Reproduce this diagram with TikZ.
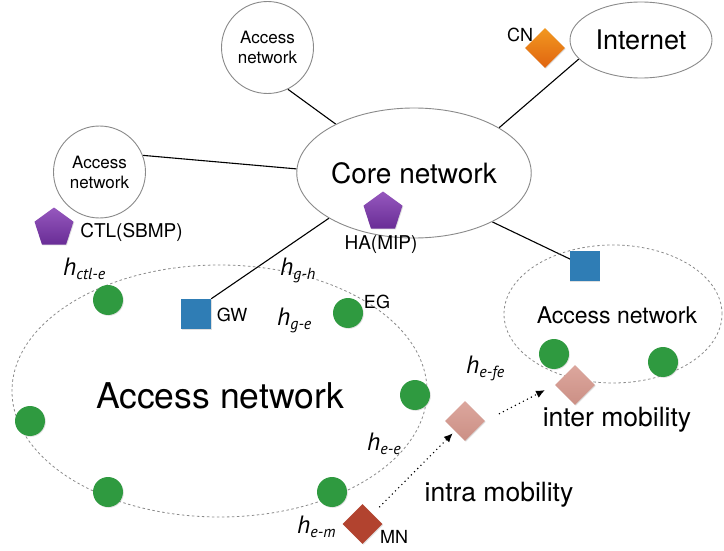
\documentclass[tikz,border=0pt]{standalone}
\usepackage{fontspec}
\setmainfont{TeX Gyre Heros}
\newfontfamily\hfont{PT Sans}
\usetikzlibrary{shapes.geometric,arrows.meta,shadows,backgrounds}
\definecolor{egreen}{HTML}{2F9A40}
\definecolor{gwblue}{HTML}{2F7DB5}
\definecolor{mnred}{HTML}{B2432F}
\definecolor{pinkd}{HTML}{D6978C}
\definecolor{outl}{HTML}{8A8A8A}
\newcommand{\hlab}[1]{{\hfont\itshape\fontsize{25}{25}\selectfont h\raisebox{-4pt}{\fontsize{16}{16}\selectfont #1}}}
\tikzset{
  netcircle/.style={circle,draw=outl,line width=0.9pt,fill=white,minimum size=92pt,inner sep=0pt,align=center,font=\fontsize{17}{20}\selectfont},
  netell/.style={ellipse,draw=outl,line width=0.9pt,fill=white,inner sep=0pt},
  dashell/.style={ellipse,draw=outl,line width=0.8pt,dash pattern=on 2.5pt off 2.5pt,inner sep=0pt},
  link/.style={line width=1.1pt,black},
  shad/.style={drop shadow={shadow xshift=0.8pt,shadow yshift=-0.8pt,opacity=0.25}},
  egnode/.style={circle,fill=egreen,minimum size=30pt,inner sep=0pt,shad},
  gwnode/.style={rectangle,fill=gwblue,minimum size=30pt,inner sep=0pt,shad},
  pent/.style={regular polygon,regular polygon sides=5,minimum size=41pt,inner sep=0pt,top color={rgb,255:red,150;green,88;blue,190},bottom color={rgb,255:red,105;green,45;blue,150},shad},
  dia/.style={diamond,minimum width=40pt,minimum height=40pt,inner sep=0pt,shad},
  lab/.style={font=\fontsize{18}{18}\selectfont,inner sep=0pt},
  mob/.style={line width=1.6pt,dash pattern=on 0pt off 4.5pt,line cap=round,-{Latex[length=9pt,width=8pt]}},
}
\begin{document}
\begin{tikzpicture}[x=1pt,y=-1pt]
\useasboundingbox (0,0) rectangle (724,551);
% big networks
\node[dashell,minimum width=415pt,minimum height=252pt] (bigan) at (219.5,391) {};
\node[anchor=base,inner sep=0pt,font=\fontsize{35.5}{35.5}\selectfont] (bigtxt) at (220,408) {Access network};
\node[dashell,minimum width=218pt,minimum height=138pt] (rightan) at (613,314) {};
\node[anchor=base,inner sep=0pt,font=\fontsize{23}{23}\selectfont] (righttxt) at (617,323) {Access network};
% core and others
\node[netell,minimum width=190pt,minimum height=130pt,font=\fontsize{28}{28}\selectfont] (core) at (414,173) {Core network};
\node[netell,minimum width=142pt,minimum height=76pt,font=\fontsize{27}{27}\selectfont] (internet) at (641,40) {Internet};
\node[netcircle] (ac1) at (267.5,47.5) {Access\\network};
\node[netcircle] (ac2) at (99.5,172) {Access\\network};
% gateways
\node[gwnode] (gw) at (196,314) {};
\node[gwnode] (gw2) at (584.5,266) {};
% links
\begin{scope}[on background layer]
\draw[link] (ac1.-64) -- (core.148);
\draw[link] (ac2.21) -- (core.178);
\draw[link] (core.28) -- (internet.197);
\draw[link] (core.208) -- (gw.north east);
\draw[link] (core.-32) -- (gw2.center);
\end{scope}
% CN
\node[dia,top color={rgb,255:red,242;green,152;blue,32},bottom color={rgb,255:red,224;green,100;blue,16}] (cn) at (545,48) {};
\node[lab] (cnl) at (520,35) {CN};
% pentagons
\node[pent] (ha) at (383,212) {};
\node[lab,font=\fontsize{19}{19}\selectfont] (hal) at (381,245) {HA(MIP)};
\node[pent] (ctl) at (54,228) {};
\node[lab,font=\fontsize{19}{19}\selectfont] (ctll) at (131.5,232) {CTL(SBMP)};
% EGs
\node[egnode] (e1) at (108,300) {};
\node[egnode] (e2) at (348,313) {};
\node[egnode] (e3) at (30,421) {};
\node[egnode] (e4) at (108,492) {};
\node[egnode] (e5) at (332,492) {};
\node[egnode] (e6) at (415,395) {};
\node[egnode] (e7) at (554,354) {};
\node[egnode] (e8) at (663,362) {};
\node[lab] (egl) at (377,302) {EG};
\node[lab] (gwl) at (232,315) {GW};
% mobile nodes
\node[dia,fill=mnred] (mn) at (362.5,524) {};
\node[lab] (mnl) at (394,537) {MN};
\node[dia,top color=pinkd!85!white,bottom color=pinkd!95!black] (p1) at (465,421) {};
\node[dia,top color=pinkd!85!white,bottom color=pinkd!95!black] (p2) at (575,385) {};
\draw[mob,shorten <=10pt,shorten >=3pt] (mn.north east) -- (p1.south west);
\draw[mob,shorten <=16pt,shorten >=11pt] (p1.east) -- (p2.west);
\node[anchor=base,inner sep=0pt,font=\fontsize{26.5}{26.5}\selectfont] (intra) at (499,501) {intra mobility};
\node[anchor=base,inner sep=0pt,font=\fontsize{26.5}{26.5}\selectfont] (inter) at (617,426) {inter mobility};
% h labels
\node[anchor=base west,inner sep=0pt] (hctl) at (63,275) {\hlab{ctl-e}};
\node[anchor=base west,inner sep=0pt] (hgh) at (280,275) {\hlab{g-h}};
\node[anchor=base west,inner sep=0pt] (hge) at (277,325) {\hlab{g-e}};
\node[anchor=base west,inner sep=0pt] (hem) at (297,533) {\hlab{e-m}};
\node[anchor=base west,inner sep=0pt] (hee) at (367,450) {\hlab{e-e}};
\node[anchor=base west,inner sep=0pt] (hefe) at (466,373) {\hlab{e-fe}};
\end{tikzpicture}
\end{document}
